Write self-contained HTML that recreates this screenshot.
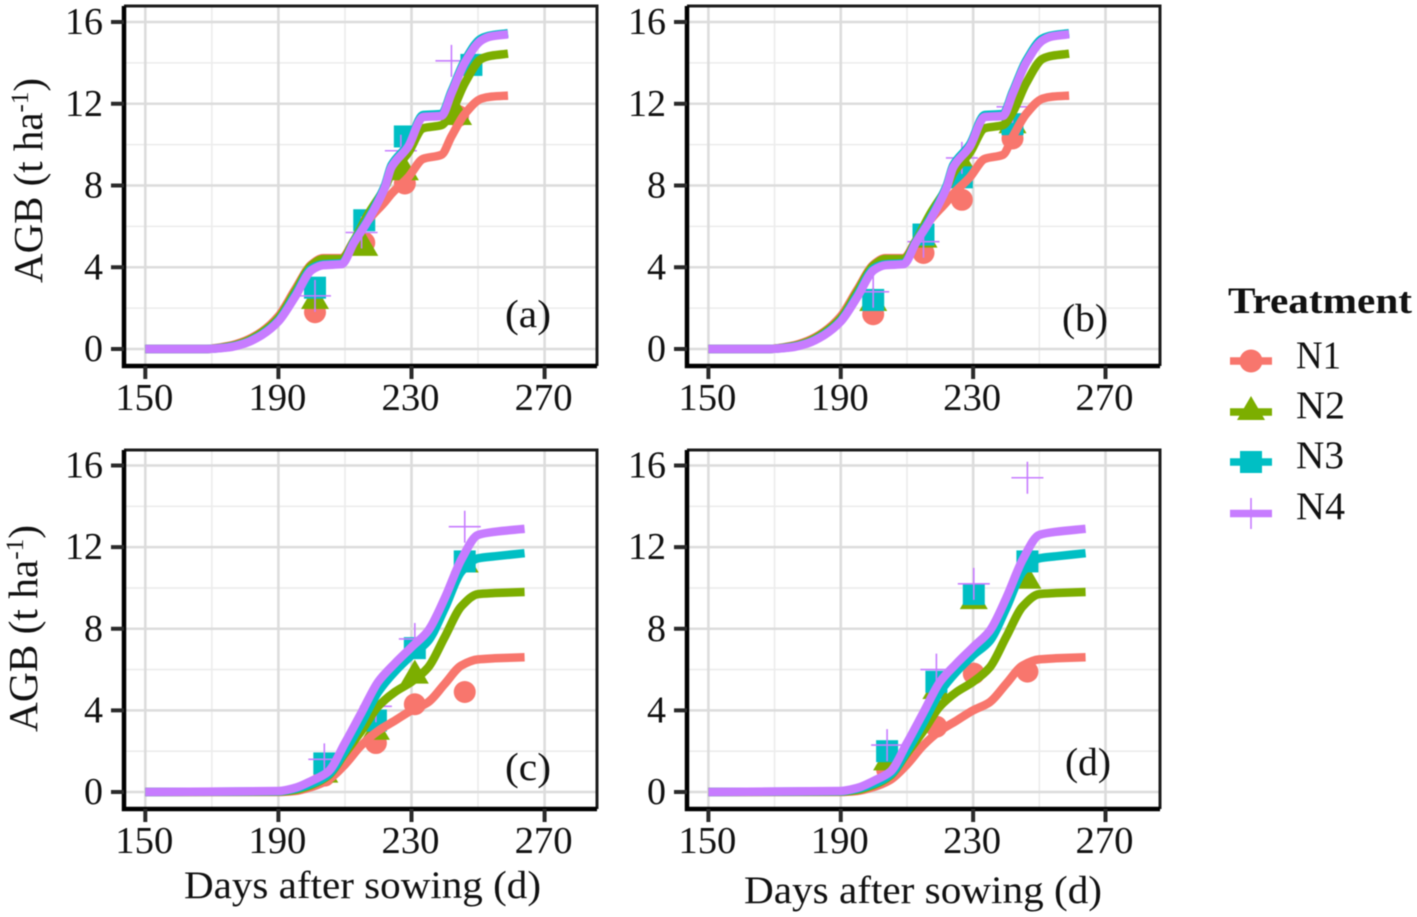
<!DOCTYPE html>
<html>
<head>
<meta charset="utf-8">
<title>AGB chart</title>
<style>
html,body{margin:0;padding:0;background:#fff;}
svg{display:block;filter:blur(0.4px);}
text{font-family:"Liberation Serif",serif;fill:#111;}
</style>
</head>
<body>
<svg id="chart" xmlns="http://www.w3.org/2000/svg" width="1417" height="917" viewBox="0 0 1417 917">
  <rect x="0" y="0" width="1417" height="917" fill="#ffffff"/>
  <g id="panels"></g>

  <text x="184" y="898" font-size="39" textLength="357" lengthAdjust="spacingAndGlyphs">Days after sowing (d)</text>
  <text x="744" y="903" font-size="39" textLength="358" lengthAdjust="spacingAndGlyphs">Days after sowing (d)</text>
  <text transform="translate(42,283) rotate(-90)" font-size="41" textLength="205" lengthAdjust="spacingAndGlyphs">AGB (t ha<tspan font-size="25" dy="-14">-1</tspan><tspan dy="14">)</tspan></text>
  <text transform="translate(37,732) rotate(-90)" font-size="41" textLength="207" lengthAdjust="spacingAndGlyphs">AGB (t ha<tspan font-size="25" dy="-14">-1</tspan><tspan dy="14">)</tspan></text>

  <g>
    <text x="1228" y="313" font-size="37" font-weight="bold" textLength="184" lengthAdjust="spacingAndGlyphs">Treatment</text>
    <g>
      <line x1="1230" x2="1272" y1="361" y2="361" stroke="#F8766D" stroke-width="7.5"/>
      <circle cx="1251" cy="361" r="11.5" fill="#F8766D"/>
      <text x="1296" y="368" font-size="39" textLength="45" lengthAdjust="spacingAndGlyphs">N1</text>
    </g>
    <g>
      <line x1="1230" x2="1272" y1="412" y2="412" stroke="#7CAE00" stroke-width="7.5"/>
      <polygon points="1251,396 1265,420 1237,420" fill="#7CAE00"/>
      <text x="1296" y="418" font-size="39" textLength="49" lengthAdjust="spacingAndGlyphs">N2</text>
    </g>
    <g>
      <line x1="1230" x2="1272" y1="462" y2="462" stroke="#00BFC4" stroke-width="7.5"/>
      <rect x="1240" y="451" width="22" height="22" fill="#00BFC4"/>
      <text x="1296" y="468" font-size="39" textLength="48" lengthAdjust="spacingAndGlyphs">N3</text>
    </g>
    <g>
      <line x1="1251" x2="1251" y1="498" y2="529" stroke="#C77CFF" stroke-width="1.6"/>
      <line x1="1230" x2="1272" y1="513.5" y2="513.5" stroke="#C77CFF" stroke-width="7.5"/>
      <text x="1296" y="519" font-size="39" textLength="49" lengthAdjust="spacingAndGlyphs">N4</text>
    </g>
  </g>
</svg>

<script>
// ---------- Data ----------
const xTickLabels = [150, 190, 230, 270];
const xMinorTicks = [170, 210, 250];
const yTickLabels = [0, 4, 8, 12, 16];
const yMinorTicks = [2, 6, 10, 14];
const seriesNames = ['N1', 'N2', 'N3', 'N4'];

// Simulated curves, panels (a) and (b)
const upperDays = [150, 168, 175, 180, 185, 190, 195, 200, 203.5, 209, 212.7, 217, 222, 224, 229, 233.5, 239, 242, 246, 251, 254, 259];
const upperN1 = [0, 0, 0.15, 0.4, 0.85, 1.6, 2.9, 4.15, 4.45, 4.45, 5.3, 6.3, 7.2, 7.6, 8.4, 9.3, 9.5, 10.4, 11.5, 12.25, 12.35, 12.4];
const upperN2 = [0, 0, 0.12, 0.35, 0.8, 1.5, 2.8, 4.1, 4.4, 4.4, 5.3, 6.6, 7.9, 8.6, 9.6, 10.8, 10.95, 11.6, 13, 14.2, 14.35, 14.45];
const upperN3 = [0, 0, 0.1, 0.3, 0.72, 1.4, 2.65, 3.95, 4.15, 4.2, 5.25, 6.4, 8.0, 9.0, 10.0, 11.45, 11.5, 12.6, 14.1, 15.2, 15.35, 15.45];
const upperN4 = [0, 0, 0.08, 0.28, 0.68, 1.35, 2.55, 3.86, 4.1, 4.15, 5.2, 6.3, 7.9, 8.9, 9.9, 11.35, 11.4, 12.5, 14, 15.1, 15.3, 15.4];

// Simulated curves, panels (c) and (d)
const lowerDays = [150, 190, 195, 200, 205, 210, 215, 220, 225, 230, 235, 240, 245, 250, 255, 264];
const lowerN1 = [0, 0, 0.05, 0.25, 0.6, 1.35, 2.3, 3.0, 3.5, 4.0, 4.4, 5.3, 6.2, 6.5, 6.55, 6.6];
const lowerN2 = [0, 0.02, 0.1, 0.35, 0.8, 1.9, 3.0, 4.2, 4.9, 5.4, 6.1, 7.6, 9.1, 9.7, 9.75, 9.8];
const lowerN3 = [0, 0.03, 0.15, 0.4, 0.85, 2.0, 3.4, 4.9, 5.9, 6.7, 7.4, 9.0, 10.8, 11.45, 11.55, 11.7];
const lowerN4 = [0, 0.05, 0.2, 0.55, 1.0, 2.4, 3.9, 5.4, 6.3, 7.1, 7.9, 9.5, 11.4, 12.6, 12.75, 12.9];

// Observations
const obsDaysA = [201, 215.8, 228, 244];
const obsA_N1 = [1.8, 5.2, 8.1, 11.4];
const obsA_N2 = [2.4, 5.0, 8.7, 11.4];
const obsDaysA_N3 = [201, 215.8, 228, 248];
const obsA_N3 = [3.0, 6.3, 10.4, 13.9];
const obsDaysA_N4 = [201, 215, 226.8, 242];
const obsA_N4 = [2.6, 5.7, 9.7, 14.1];

const obsDaysB = [199.8, 215, 226.6, 241.9];
const obsB_N1 = [1.7, 4.7, 7.3, 10.3];
const obsB_N2 = [2.3, 5.4, 9.1, 11.0];
const obsB_N3 = [2.4, 5.6, 8.4, 11.0];
const obsB_N4 = [2.8, 5.25, 9.35, 11.85];

const obsDaysC = [203.8, 219.3, 231, 246];
const obsC_N1 = [0.8, 2.4, 4.3, 4.9];
const obsC_N2 = [0.9, 3.0, 5.75, 11.2];
const obsC_N3 = [1.4, 3.5, 7.05, 11.3];
const obsC_N4 = [1.6, 4.2, 7.5, 13.0];

const obsDaysD = [204, 218.9, 230.2, 246.4];
const obsD_N1 = [1.1, 3.2, 5.8, 5.9];
const obsD_N2 = [1.5, 5.0, 9.4, 10.4];
const obsD_N3 = [2.0, 5.4, 9.7, 11.3];
const obsD_N4 = [2.3, 6.0, 10.2, 15.4];

// ---------- Rendering ----------
const SVGNS = 'http://www.w3.org/2000/svg';
const panelsRoot = document.getElementById('panels');
const seriesColors = ['#F8766D', '#7CAE00', '#00BFC4', '#C77CFF'];

function make(tag, attrs, parent) {
  const el = document.createElementNS(SVGNS, tag);
  Object.keys(attrs).forEach(function (k) { el.setAttribute(k, attrs[k]); });
  parent.appendChild(el);
  return el;
}

// Monotone cubic path through screen points, so the curve stays smooth without overshoot
function smoothPath(xs, ys) {
  const n = xs.length;
  const h = [], s = [], m = new Array(n);
  for (let i = 0; i < n - 1; i++) {
    h[i] = xs[i + 1] - xs[i];
    s[i] = (ys[i + 1] - ys[i]) / h[i];
  }
  m[0] = s[0];
  m[n - 1] = s[n - 2];
  for (let i = 1; i < n - 1; i++) {
    m[i] = s[i - 1] * s[i] <= 0 ? 0 : 2 * s[i - 1] * s[i] / (s[i - 1] + s[i]);
  }
  let d = 'M' + xs[0].toFixed(1) + ' ' + ys[0].toFixed(1);
  for (let i = 0; i < n - 1; i++) {
    d += 'C' + (xs[i] + h[i] / 3).toFixed(1) + ' ' + (ys[i] + m[i] * h[i] / 3).toFixed(1) + ' ' +
      (xs[i + 1] - h[i] / 3).toFixed(1) + ' ' + (ys[i + 1] - m[i + 1] * h[i] / 3).toFixed(1) + ' ' +
      xs[i + 1].toFixed(1) + ' ' + ys[i + 1].toFixed(1);
  }
  return d;
}

function drawMarker(kind, cx, cy, parent) {
  let el;
  if (kind === 0) {
    el = make('circle', { cx: cx, cy: cy, r: 11, fill: seriesColors[0] }, parent);
  } else if (kind === 1) {
    el = make('polygon', { points: (cx) + ',' + (cy - 15) + ' ' + (cx + 14) + ',' + (cy + 9) + ' ' + (cx - 14) + ',' + (cy + 9), fill: seriesColors[1] }, parent);
  } else if (kind === 2) {
    el = make('rect', { x: cx - 11, y: cy - 11, width: 22, height: 22, fill: seriesColors[2] }, parent);
  } else {
    el = make('path', { d: 'M' + (cx - 16) + ' ' + cy + 'H' + (cx + 16) + 'M' + cx + ' ' + (cy - 16) + 'V' + (cy + 16), stroke: seriesColors[3], 'stroke-width': 1.6, fill: 'none' }, parent);
  }
  
  
}

function drawPanel(cfg) {
  const g = make('g', {}, panelsRoot);
  
  

  const xScale = function (d) { return cfg.x150 + (d - 150) * (cfg.x270 - cfg.x150) / 120; };
  const yScale = function (v) { return cfg.y0 + v * (cfg.y16 - cfg.y0) / 16; };

  // Minor gridlines
  xMinorTicks.forEach(function (t) {
    const l = make('line', { x1: xScale(t), x2: xScale(t), y1: cfg.top, y2: cfg.bottom, stroke: '#ececec', 'stroke-width': 1.6 }, g);
    
    
  });
  yMinorTicks.forEach(function (t) {
    const l = make('line', { x1: cfg.left, x2: cfg.right, y1: yScale(t), y2: yScale(t), stroke: '#ececec', 'stroke-width': 1.6 }, g);
    
    
  });
  // Major gridlines
  xTickLabels.forEach(function (t) {
    const l = make('line', { x1: xScale(t), x2: xScale(t), y1: cfg.top, y2: cfg.bottom, stroke: '#dcdcdc', 'stroke-width': 2.6 }, g);
    
    
  });
  yTickLabels.forEach(function (t) {
    const l = make('line', { x1: cfg.left, x2: cfg.right, y1: yScale(t), y2: yScale(t), stroke: '#dcdcdc', 'stroke-width': 2.6 }, g);
    
    
  });

  // Observed points
  cfg.obs.forEach(function (series, k) {
    series.values.forEach(function (v, i) {
      drawMarker(k, xScale(series.days[i]), yScale(v), g);
    });
  });

  // Simulated lines
  cfg.curves.forEach(function (values, k) {
    const xs = cfg.curveDays.map(xScale);
    const ys = values.map(yScale);
    const line = make('path', { d: smoothPath(xs, ys), fill: 'none', stroke: seriesColors[k], 'stroke-width': 8.5, 'stroke-linejoin': 'round', 'stroke-linecap': 'butt' }, g);
    
    
  });

  // Frame
  const frame = make('path', { d: 'M' + cfg.left + ' ' + cfg.top + 'H' + cfg.right + 'V' + cfg.bottom, fill: 'none', stroke: '#1c1c1c', 'stroke-width': 3 }, g);
  
  
  const axes = make('path', { d: 'M' + cfg.left + ' ' + cfg.top + 'V' + cfg.bottom + 'H' + cfg.right, fill: 'none', stroke: '#000', 'stroke-width': 4.5 }, g);
  
  

  // Ticks and labels
  xTickLabels.forEach(function (t) {
    const tick = make('line', { x1: xScale(t), x2: xScale(t), y1: cfg.bottom, y2: cfg.bottom + 13, stroke: '#2a2a2a', 'stroke-width': 4 }, g);
    
    
    const label = make('text', { x: xScale(t) - 1, y: cfg.xLabelY, 'text-anchor': 'middle', 'font-size': 38, textLength: 58, lengthAdjust: 'spacingAndGlyphs' }, g);
    label.textContent = String(t);
    
    
  });
  yTickLabels.forEach(function (t) {
    const tick = make('line', { x1: cfg.left - 13, x2: cfg.left, y1: yScale(t), y2: yScale(t), stroke: '#2a2a2a', 'stroke-width': 4 }, g);
    
    
    const w = String(t).length * 19;
    const label = make('text', { x: cfg.left - 21 - w, y: yScale(t) + 12, 'font-size': 38, textLength: w, lengthAdjust: 'spacingAndGlyphs' }, g);
    label.textContent = String(t);
    
    
  });

  // Panel tag
  const tag = make('text', { x: cfg.tagX, y: cfg.tagY, 'font-size': 39, textLength: 46, lengthAdjust: 'spacingAndGlyphs' }, g);
  tag.textContent = '(' + cfg.id + ')';
  
  
}

const upperCurves = [upperN1, upperN2, upperN3, upperN4];
const lowerCurves = [lowerN1, lowerN2, lowerN3, lowerN4];

drawPanel({ id: 'a', left: 124, right: 597, top: 6, bottom: 366, x150: 145.3, x270: 544.6, y0: 349, y16: 22, xLabelY: 410, tagX: 505, tagY: 327,
  curveDays: upperDays, curves: upperCurves,
  obs: [{ days: obsDaysA, values: obsA_N1 }, { days: obsDaysA, values: obsA_N2 }, { days: obsDaysA_N3, values: obsA_N3 }, { days: obsDaysA_N4, values: obsA_N4 }] });
drawPanel({ id: 'b', left: 687, right: 1160, top: 6, bottom: 366, x150: 708.4, x270: 1105.5, y0: 349, y16: 22, xLabelY: 410, tagX: 1062, tagY: 331,
  curveDays: upperDays, curves: upperCurves,
  obs: [{ days: obsDaysB, values: obsB_N1 }, { days: obsDaysB, values: obsB_N2 }, { days: obsDaysB, values: obsB_N3 }, { days: obsDaysB, values: obsB_N4 }] });
drawPanel({ id: 'c', left: 124, right: 597, top: 450, bottom: 809, x150: 145.3, x270: 544.6, y0: 792, y16: 465.5, xLabelY: 853, tagX: 505, tagY: 780,
  curveDays: lowerDays, curves: lowerCurves,
  obs: [{ days: obsDaysC, values: obsC_N1 }, { days: obsDaysC, values: obsC_N2 }, { days: obsDaysC, values: obsC_N3 }, { days: obsDaysC, values: obsC_N4 }] });
drawPanel({ id: 'd', left: 687, right: 1160, top: 450, bottom: 809, x150: 708.4, x270: 1105.5, y0: 792, y16: 465.5, xLabelY: 853, tagX: 1065, tagY: 775,
  curveDays: lowerDays, curves: lowerCurves,
  obs: [{ days: obsDaysD, values: obsD_N1 }, { days: obsDaysD, values: obsD_N2 }, { days: obsDaysD, values: obsD_N3 }, { days: obsDaysD, values: obsD_N4 }] });
</script>
</body>
</html>
